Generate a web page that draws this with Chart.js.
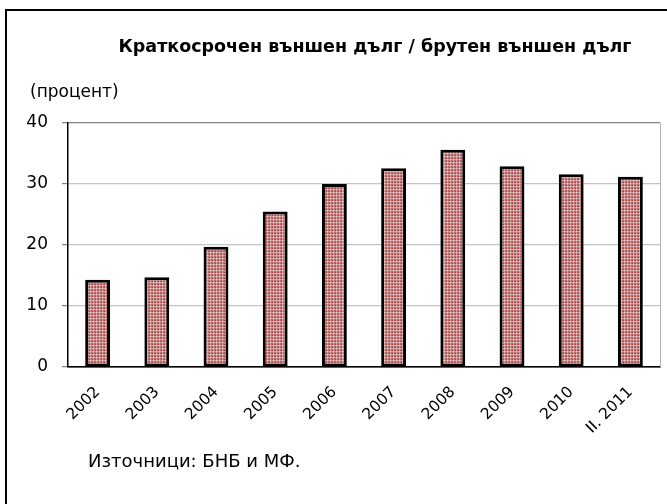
<!DOCTYPE html>
<html>
<head>
<meta charset="utf-8">
<script src="https://cdn.jsdelivr.net/npm/chart.js@4.4.1/dist/chart.umd.min.js"></script>
<style>
    html, body { margin: 0; padding: 0; background: #fff; }
</style>
</head>
<body>
<canvas id="debtChart" width="667" height="504"></canvas>
<script>
const years = ["2002", "2003", "2004", "2005", "2006", "2007", "2008", "2009", "2010", "II. 2011"];
const shortTermShare = [14.3, 14.7, 19.7, 25.5, 30.0, 32.6, 35.6, 32.9, 31.6, 31.2];
const yTickValues = [0, 10, 20, 30, 40];

const chartTitle = "Краткосрочен външен дълг / брутен външен дълг";
const unitLabel = "(процент)";
const sourceNote = "Източници: БНБ и МФ.";

const fontName = "'DejaVu Sans', sans-serif";

function makeBarPattern(ctx) {
    // small checkered fill like the original's hatch
    const tile = document.createElement("canvas");
    tile.width = 3;
    tile.height = 3;
    const g = tile.getContext("2d");
    g.fillStyle = "#b96c6c";
    g.fillRect(0, 0, 3, 3);
    g.fillStyle = "#cf9c9c";
    g.fillRect(0, 0, 3, 1);
    g.fillRect(0, 0, 1, 3);
    g.fillStyle = "#e6caca";
    g.fillRect(0, 0, 1, 1);
    g.fillStyle = "#a23a3a";
    g.fillRect(2, 2, 1, 1);
    return ctx.createPattern(tile, "repeat");
}

const textPlugin = {
    id: "textPlugin",
    afterDraw(chart) {
        const ctx = chart.ctx;
        const area = chart.chartArea;
        ctx.save();
        ctx.fillStyle = "#000";
        ctx.textBaseline = "middle";

        ctx.font = "bold 17.5px " + fontName;
        ctx.textAlign = "center";
        ctx.fillText(chartTitle, 375, 47);

        ctx.font = "17px " + fontName;
        ctx.textAlign = "left";
        ctx.fillText(unitLabel, 30, 93);

        ctx.font = "18px " + fontName;
        ctx.fillText(sourceNote, 88, 462);

        // right edge of the plot
        ctx.strokeStyle = "#b0b0b0";
        ctx.lineWidth = 1;
        ctx.beginPath();
        ctx.moveTo(area.right + 0.5, area.top);
        ctx.lineTo(area.right + 0.5, area.bottom);
        ctx.stroke();

        // outer frame, runs off the right and bottom
        ctx.strokeStyle = "#000";
        ctx.lineWidth = 2;
        ctx.strokeRect(6, 10, 680, 520);
        ctx.restore();
    }
};

const ctx = document.getElementById("debtChart").getContext("2d");

new Chart(ctx, {
    type: "bar",
    data: {
        labels: years,
        datasets: [{
            data: shortTermShare,
            backgroundColor: makeBarPattern(ctx),
            borderColor: "#000",
            borderWidth: 3,
            borderSkipped: false,
            categoryPercentage: 1,
            barPercentage: 0.42
        }]
    },
    options: {
        responsive: false,
        animation: false,
        layout: { padding: { top: 123, left: 26, right: 7, bottom: 47 } },
        plugins: {
            legend: { display: false },
            title: { display: false },
            tooltip: { enabled: false }
        },
        scales: {
            x: {
                grid: { display: false },
                border: { color: "#000", width: 1.5 },
                ticks: {
                    color: "#000",
                    font: { family: fontName, size: 15.5 },
                    minRotation: 45,
                    maxRotation: 45,
                    padding: 8
                },
                afterFit: scale => { scale.height = 90; }
            },
            y: {
                min: 0,
                max: 40,
                afterBuildTicks: scale => {
                    scale.ticks = yTickValues.map(v => ({ value: v }));
                },
                grid: {
                    color: c => c.tick && c.tick.value === 40 ? "#808080" : (c.tick && c.tick.value === 0 ? "#000" : "#c4c4c4"),
                    tickColor: "#808080",
                    tickLength: 6,
                    lineWidth: 1.2
                },
                border: { color: "#000", width: 1.5 },
                ticks: {
                    color: "#000",
                    font: { family: fontName, size: 17 },
                    padding: 14
                },
                afterFit: scale => { scale.width = 42; }
            }
        }
    },
    plugins: [textPlugin]
});
</script>
</body>
</html>
